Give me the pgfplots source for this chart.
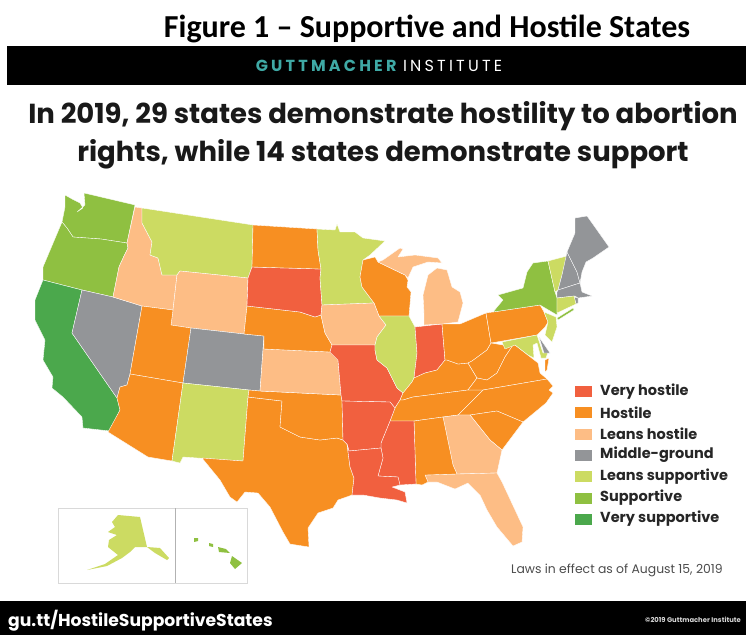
\documentclass[border=0pt]{standalone}
\usepackage{fontspec}
\usepackage{pgfplots}
\pgfplotsset{compat=1.18}
\setmainfont{Poppins}
\newfontfamily\calib{Carlito}
\newfontfamily\spaced[LetterSpace=20]{Poppins}
\definecolor{vh}{HTML}{F1603F}
\definecolor{ho}{HTML}{F78F22}
\definecolor{lh}{HTML}{FDBD85}
\definecolor{mg}{HTML}{939598}
\definecolor{ls}{HTML}{CCDB62}
\definecolor{su}{HTML}{8FC041}
\definecolor{vs}{HTML}{4BA84C}
\definecolor{teal}{HTML}{3FA9A5}
\newcommand{\st}[2]{\addplot[fill=#1,draw=white,line width=0.35pt,line join=round] coordinates {#2} -- cycle;}
\newcommand{\bx}[2]{\addplot[fill=#1,draw=none] coordinates {#2} -- cycle;}
\newcommand{\lab}[2]{\node[anchor=west,inner sep=0pt,font=\bfseries\fontsize{14.5}{14.5}\selectfont,black!85] at (axis cs:600,#1) {#2};}
\begin{document}
\begin{tikzpicture}
\begin{axis}[
    scale only axis, width=746pt, height=635pt,
    xmin=0, xmax=746, ymin=0, ymax=635,
    y dir=reverse, hide axis, clip=false]
\bx{white}{(0,0)(746,0)(746,635)(0,635)}
% bands
\bx{black}{(7,46)(746,46)(746,85)(7,85)}
\bx{black}{(0,601)(746,601)(746,635)(0,635)}
% west
\st{su}{(65,195)(72,199)(80,203)(83,208)(77,212)(85,205)(84,193)(135,205)(127,243)(101,239)(73,237)(67,228)(62,222)(65,207)}
\st{su}{(62,222)(67,228)(73,237)(101,239)(127,243)(128,248)(124,256)(119,267)(113,297)(82,290)(43,280)(43,267)}
\st{vs}{(43,280)(82,290)(72,333)(117,398)(120,410)(110,431)(83,428)(82,417)(63,397)(52,388)(53,377)(43,360)(45,340)(35,320)(35,300)}
\st{mg}{(82,290)(113,297)(142,306)(130,374)(127,385)(120,387)(117,398)(72,333)}
\st{lh}{(135,207)(142,208)(142,223)(152,242)(150,255)(158,258)(162,275)(177,275)(173,310)(142,306)(113,297)(119,267)(124,256)(128,248)(127,243)}
\st{ls}{(142,208)(253,225)(252,267)(248,278)(180,271)(177,275)(162,275)(158,258)(150,255)(152,242)(142,223)}
\st{lh}{(180,271)(248,278)(247,306)(244,334)(191,328)(171,325)(173,310)(177,275)}
\st{ho}{(142,306)(173,310)(171,325)(191,328)(183,383)(130,374)}
\st{mg}{(191,328)(244,334)(264,336)(260,391)(249,390)(183,383)}
\st{ho}{(130,374)(183,383)(172,461)(148,457)(108,432)(120,410)(117,398)(120,387)(127,385)}
\st{ls}{(183,383)(249,390)(248,397)(243,461)(183,457)(180,463)(172,461)}
% plains and south
\st{ho}{(248,397)(282,401)(280,427)(300,437)(320,440)(337,438)(343,440)(347,444)(350,467)(354,478)(352,495)(338,500)(333,508)(318,513)(308,528)(309,547)(290,544)(283,532)(270,507)(258,493)(245,492)(237,502)(230,497)(220,480)(202,458)(243,461)}
\st{ho}{(249,390)(260,391)(341,395)(342,401)(343,440)(337,438)(320,440)(300,437)(280,427)(282,401)(248,397)}
\st{lh}{(264,349)(330,352)(338,360)(341,395)(260,391)(264,336)}
\st{ho}{(247,306)(300,312)(315,317)(321,315)(325,333)(332,345)(330,352)(264,349)(264,336)(244,334)}
\st{vh}{(252,267)(321,269)(320,278)(322,305)(321,315)(315,317)(300,312)(247,306)(248,278)}
\st{ho}{(253,225)(317,229)(318,250)(321,269)(252,267)}
\st{ls}{(317,229)(335,230)(337,224)(340,232)(355,232)(363,238)(385,241)(370,255)(363,260)(360,277)(362,287)(374,303)(322,305)(320,278)(321,269)(318,250)}
\st{ho}{(363,260)(375,257)(378,262)(405,275)(408,280)(407,287)(411,292)(409,316)(379,316)(374,303)(362,287)(360,277)}
\st{lh}{(322,305)(374,303)(379,316)(386,325)(377,337)(375,345)(332,345)(325,333)(321,315)}
\st{vh}{(332,345)(375,345)(375,350)(377,360)(387,368)(397,388)(403,393)(400,400)(395,408)(390,402)(342,401)(341,395)(338,360)(330,352)}
\st{ls}{(379,316)(409,316)(415,327)(417,353)(414,378)(412,382)(403,393)(397,388)(387,368)(377,360)(375,350)(375,345)(377,337)(386,325)}
\st{vh}{(415,327)(442,324)(445,360)(437,370)(425,373)(414,378)(417,353)}
\st{ho}{(414,378)(425,373)(437,370)(445,360)(447,360)(458,364)(468,363)(477,378)(468,390)(413,397)(403,400)(400,400)(403,393)(412,382)}
\st{ho}{(400,400)(403,400)(413,397)(468,390)(483,390)(458,415)(443,417)(414,421)(390,421)(395,408)}
\st{ho}{(442,324)(460,324)(486,313)(491,343)(487,350)(472,361)(468,363)(458,364)(447,360)(445,360)}
\st{ho}{(486,313)(540,305)(544,312)(548,322)(545,327)(537,335)(491,343)}
\st{ho}{(491,343)(503,345)(513,345)(505,357)(497,373)(487,380)(477,378)(468,363)(472,361)(487,350)}
\st{ho}{(515,345)(538,363)(540,373)(547,379)(483,390)(468,390)(477,378)(487,380)(497,373)(505,357)(513,345)}
\st{ho}{(547,379)(553,386)(549,390)(553,393)(546,403)(523,422)(497,411)(470,415)(458,415)(483,390)}
\st{ho}{(470,415)(497,411)(523,422)(502,450)(490,440)}
\st{lh}{(443,417)(458,415)(470,415)(490,440)(502,450)(497,473)(457,474)(453,465)}
\st{lh}{(425,475)(457,474)(497,473)(502,482)(523,527)(522,542)(513,546)(497,527)(487,510)(480,495)(468,483)(455,489)(437,482)(428,482)}
\st{ho}{(414,421)(443,417)(453,465)(457,474)(425,475)(428,482)(422,485)(416,484)}
\st{vh}{(390,421)(414,421)(416,484)(400,485)(398,477)(378,476)(383,458)(381,448)(381,443)}
\st{vh}{(342,401)(390,402)(395,408)(390,421)(381,443)(381,448)(349,451)(347,444)(343,440)}
\st{vh}{(349,451)(381,448)(383,458)(378,476)(398,477)(400,485)(392,487)(405,492)(407,503)(397,500)(380,498)(363,495)(352,495)(354,478)(350,467)(347,444)}
% great lakes
\st{lh}{(423,295)(428,275)(437,268)(447,270)(452,287)(460,292)(463,303)(458,322)(442,324)(424,325)(424,313)}
\st{lh}{(378,262)(383,260)(400,248)(403,249)(398,257)(415,255)(438,258)(442,263)(428,262)(413,267)(408,278)(405,275)}
% north east
\st{su}{(548,261)(555,292)(557,298)(557,315)(540,305)(493,312)(503,300)(498,295)(523,288)(527,272)(533,263)}
\st{ls}{(548,261)(567,256)(562,275)(558,290)(555,292)}
\st{mg}{(567,252)(577,272)(580,283)(558,290)(562,275)}
\st{mg}{(575,218)(587,216)(597,230)(609,247)(593,258)(586,262)(582,272)(580,283)(577,272)(567,252)(575,233)}
\st{mg}{(557,292)(558,290)(580,283)(582,292)(592,296)(578,298)(575,296)(557,298)}
\st{mg}{(574,297)(578,298)(578,303)(576,304)}
\st{ls}{(557,298)(574,296)(576,304)(557,313)}
\st{su}{(557,318)(573,308)(574,310)(558,320)}
\st{ls}{(544,312)(556,317)(557,327)(552,342)(545,335)(548,322)}
\st{ls}{(502,342)(537,335)(543,353)(548,352)(546,358)(541,358)(537,343)(533,345)(534,358)(528,355)(515,345)(505,349)}
\st{mg}{(539,337)(550,353)(544,353)}
\st{ho}{(549,358)(547,370)(545,372)(545,360)}
% insets
\addplot[draw=black!15,line width=0.8pt] coordinates {(58,508)(247,508)(247,583)(58,583)} -- cycle;
\addplot[draw=black!30,line width=0.8pt] coordinates {(175,508)(175,583)};
\bx{ls}{(118,515)(140,517)(147,547)(160,548)(169,558)(167,560)(155,553)(147,547)(135,547)(130,552)(122,558)(107,566)(87,570)(105,564)(118,555)(108,547)(109,540)(117,535)(108,532)(115,527)(112,522)}
\bx{su}{(232,556)(242,563)(235,569)(230,563)}
\bx{su}{(218,547)(226,549)(230,553)(219,552)}
\bx{su}{(209,543)(213,544)(213,547)(209,546)}
\bx{su}{(194,538)(198,538)(198,541)(194,542)}
% legend swatches
\bx{vh}{(575,386)(592,386)(592,397)(575,397)}
\bx{ho}{(575,407)(592,407)(592,418)(575,418)}
\bx{lh}{(575,429)(592,429)(592,440)(575,440)}
\bx{mg}{(575,450)(592,450)(592,461)(575,461)}
\bx{ls}{(575,471)(592,471)(592,482)(575,482)}
\bx{su}{(575,493)(592,493)(592,504)(575,504)}
\bx{vs}{(575,514)(592,514)(592,525)(575,525)}
\node[inner sep=0pt,font=\calib\bfseries\fontsize{32}{32}\selectfont] at (axis cs:427,29) {Figure 1 – Supportive and Hostile States};
\node[inner sep=0pt,font=\spaced\bfseries\fontsize{16}{16}\selectfont,white] at (axis cs:379,66) {\textcolor{teal}{GUTTMACHER} \mdseries INSTITUTE};
\node[inner sep=0pt,font=\bfseries\fontsize{27.5}{27.5}\selectfont,black!90] at (axis cs:383,116) {In 2019, 29 states demonstrate hostility to abortion};
\node[inner sep=0pt,font=\bfseries\fontsize{27.5}{27.5}\selectfont,black!90] at (axis cs:383,154) {rights, while 14 states demonstrate support};
\lab{392}{Very hostile}
\lab{413}{Hostile}
\lab{434}{Leans hostile}
\lab{455}{Middle-ground}
\lab{477}{Leans supportive}
\lab{498}{Supportive}
\lab{519}{Very supportive}
\node[anchor=west,inner sep=0pt,font=\fontsize{12.4}{12.4}\selectfont,black!70] at (axis cs:511,570) {Laws in effect as of August 15, 2019};
\node[anchor=west,inner sep=0pt,font=\bfseries\fontsize{17.2}{17.2}\selectfont,white] at (axis cs:8,621) {gu.tt/HostileSupportiveStates};
\node[anchor=east,inner sep=0pt,font=\bfseries\fontsize{6.8}{6.8}\selectfont,white!85!black] at (axis cs:741,620) {©2019 Guttmacher Institute};
\end{axis}
\end{tikzpicture}
\end{document}
